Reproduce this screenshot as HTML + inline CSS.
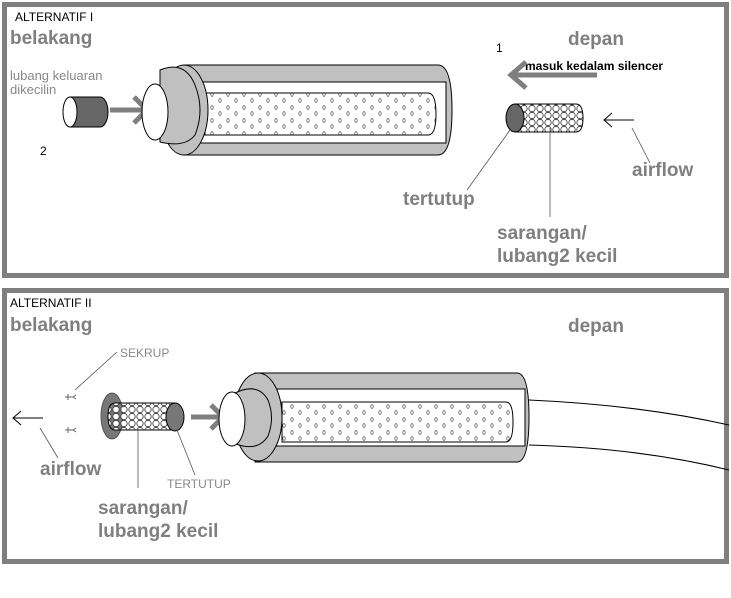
<!DOCTYPE html>
<html><head><meta charset="utf-8"><style>
body{margin:0;background:#fff;width:731px;height:598px;overflow:hidden}
svg{display:block}
text{font-family:"Liberation Sans",sans-serif}
.g{fill:#7f7f7f;font-weight:bold;font-size:19px}
.s{fill:#888;font-size:13px}
</style></head><body>
<svg width="731" height="598" viewBox="0 0 731 598" xmlns="http://www.w3.org/2000/svg">
<defs>
<pattern id="dots" width="16" height="13" patternUnits="userSpaceOnUse">
<ellipse cx="4" cy="3.5" rx="1.2" ry="1.8" fill="none" stroke="#333" stroke-width="0.6"/>
<ellipse cx="12" cy="9.5" rx="1.2" ry="1.8" fill="none" stroke="#333" stroke-width="0.6"/>
</pattern>
<pattern id="mesh" width="8" height="7" patternUnits="userSpaceOnUse">
<circle cx="4" cy="3.5" r="3.2" fill="#fff" stroke="#333" stroke-width="0.8"/>
</pattern>
</defs>
<rect x="4.5" y="4.5" width="722" height="271" fill="none" stroke="#7f7f7f" stroke-width="5"/>
<rect x="4.5" y="290.5" width="722" height="271" fill="none" stroke="#7f7f7f" stroke-width="5"/>

<!-- Panel 1 -->
<text x="15" y="21" font-size="12" fill="#000">ALTERNATIF I</text>
<text class="g" x="10" y="44">belakang</text>
<text class="g" x="568" y="45">depan</text>
<text x="496" y="52" font-size="12" fill="#000">1</text>
<text x="525" y="70" font-size="12" font-weight="bold" fill="#000">masuk kedalam silencer</text>
<line x1="597" y1="75" x2="512" y2="75" stroke="#7f7f7f" stroke-width="5"/>
<polyline points="526,62 511,75 526,88" fill="none" stroke="#7f7f7f" stroke-width="5"/>
<text class="s" x="10" y="80">lubang keluaran</text>
<text class="s" x="10" y="94">dikecilin</text>
<path d="M70,97 H100 A8,15 0 0 1 100,127 H70 Z" fill="#666" stroke="#000"/>
<ellipse cx="70" cy="112" rx="7" ry="15" fill="#fff" stroke="#000"/>
<text x="40" y="155" font-size="12" fill="#000">2</text>
<line x1="110" y1="110" x2="145" y2="110" stroke="#7f7f7f" stroke-width="5"/>
<polyline points="134,97 147,110 134,123" fill="none" stroke="#7f7f7f" stroke-width="5"/>
<!-- big muffler 1 -->
<path d="M184,65 H438 Q452,65 452,110 Q452,155 438,155 H184 Z" fill="#c0c0c0" stroke="#000"/>
<rect x="200" y="82" width="246" height="61" fill="#fff" stroke="#000"/>
<path d="M205,93 H428 Q436,93 436,114 Q436,135 428,135 H205 Z" fill="url(#dots)" stroke="#000"/>
<ellipse cx="184" cy="110" rx="24" ry="45" fill="#c0c0c0" stroke="#000"/>
<path d="M160,70 Q185,60 195,85 Q205,110 195,135 Q185,148 160,142 Z" fill="#c0c0c0" stroke="#000"/>
<ellipse cx="155" cy="112" rx="13" ry="28" fill="#fff" stroke="#000"/>
<!-- small filter 1 -->
<path d="M515,104 H576 Q583,104 583,118 Q583,132 576,132 H515 Z" fill="url(#mesh)" stroke="#000"/>
<ellipse cx="515" cy="118" rx="9" ry="14" fill="#666" stroke="#000"/>
<line x1="604" y1="120" x2="634" y2="120" stroke="#000"/>
<polyline points="612,113 604,120 612,127" fill="none" stroke="#000"/>
<line x1="510" y1="130" x2="467" y2="190" stroke="#555" stroke-width="0.8"/>
<line x1="550" y1="128" x2="550" y2="217" stroke="#555" stroke-width="0.8"/>
<line x1="632" y1="128" x2="650" y2="163" stroke="#555" stroke-width="0.8"/>
<text class="g" x="632" y="176">airflow</text>
<text class="g" x="403" y="205">tertutup</text>
<text class="g" x="497" y="239">sarangan/</text>
<text class="g" x="497" y="262">lubang2 kecil</text>

<!-- Panel 2 -->
<text x="10" y="307" font-size="12" fill="#000">ALTERNATIF II</text>
<text class="g" x="10" y="331">belakang</text>
<text class="g" x="568" y="332">depan</text>
<text x="120" y="357" font-size="12" fill="#888">SEKRUP</text>
<line x1="117" y1="352" x2="75" y2="390" stroke="#555" stroke-width="0.8"/>
<g stroke="#666" stroke-width="1" fill="none">
<path d="M65,397 h9 M68,394 v6 M73,397 l3,-2 M73,397 l3,2"/>
<path d="M65,430 h9 M68,427 v6 M73,430 l3,-2 M73,430 l3,2"/>
</g>
<line x1="13" y1="418" x2="43" y2="418" stroke="#000"/>
<polyline points="21,411 13,418 21,425" fill="none" stroke="#000"/>
<line x1="40" y1="428" x2="58" y2="458" stroke="#555" stroke-width="0.8"/>
<text class="g" x="40" y="475">airflow</text>
<ellipse cx="112" cy="416" rx="11" ry="23" fill="#777" stroke="#555"/>
<path d="M115,403 H175 V430 H115 Q108,430 108,416 Q108,403 115,403 Z" fill="url(#mesh)" stroke="#000"/>
<ellipse cx="175" cy="417" rx="9" ry="14" fill="#777" stroke="#000"/>
<line x1="191" y1="417" x2="221" y2="417" stroke="#7f7f7f" stroke-width="5"/>
<polyline points="211,405 223,417 211,429" fill="none" stroke="#7f7f7f" stroke-width="5"/>
<text x="167" y="488" font-size="12" fill="#888">TERTUTUP</text>
<line x1="177" y1="430" x2="195" y2="475" stroke="#555" stroke-width="0.8"/>
<line x1="138" y1="430" x2="138" y2="488" stroke="#555" stroke-width="0.8"/>
<text class="g" x="98" y="514">sarangan/</text>
<text class="g" x="98" y="537">lubang2 kecil</text>
<!-- big muffler 2 -->
<path d="M529,400 Q640,405 729,425 M529,445 Q640,448 729,470" fill="none" stroke="#000"/>
<path d="M255,373 H517 Q529,373 529,417 Q529,462 517,462 H255 Z" fill="#c0c0c0" stroke="#000"/>
<rect x="270" y="389" width="255" height="57" fill="#fff" stroke="#000"/>
<path d="M282,402 H506 Q513,402 513,422 Q513,442 506,442 H282 Z" fill="url(#dots)" stroke="#000"/>
<ellipse cx="258" cy="417" rx="24" ry="44" fill="#c0c0c0" stroke="#000"/>
<path d="M235,393 Q258,382 268,400 Q275,418 268,436 Q258,452 236,444 Z" fill="#c0c0c0" stroke="#000"/>
<ellipse cx="232" cy="419" rx="13" ry="27" fill="#fff" stroke="#000"/>
</svg>
</body></html>
